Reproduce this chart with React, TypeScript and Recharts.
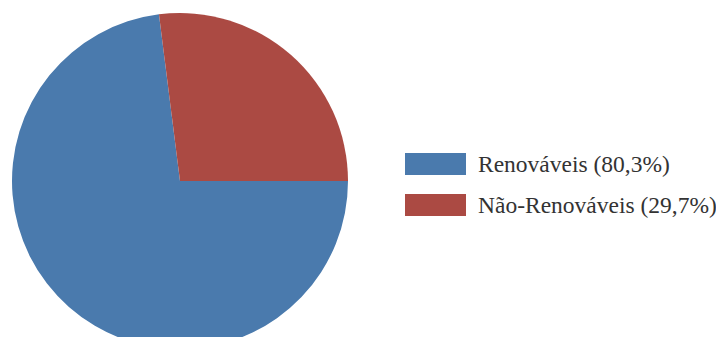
import { PieChart, Pie, Cell, Legend } from "recharts";

const categories = ["Renováveis", "Não-Renováveis"];
const values = [80.3, 29.7];
const labels = ["Renováveis (80,3%)", "Não-Renováveis (29,7%)"];
const COLORS = ["#4a7aad", "#ab4a43"];

const data = categories.map((name, i) => ({ name, value: values[i], label: labels[i], color: COLORS[i] }));

function LegendBox() {
  return (
    <div style={{ fontFamily: '"Liberation Serif", "Times New Roman", serif', fontSize: 23.5, color: "#333" }}>
      {data.map((d) => (
        <div key={d.name} style={{ display: "flex", alignItems: "flex-start", height: 41 }}>
          <div style={{ width: 61, height: 22, background: d.color, marginRight: 12 }} />
          <span style={{ lineHeight: "22px", whiteSpace: "nowrap" }}>{d.label}</span>
        </div>
      ))}
    </div>
  );
}

export default function App() {
  return (
    <div style={{ margin: -8, width: 724, height: 345, background: "#fff" }}>
      <PieChart width={724} height={345} margin={{ top: 0, right: 0, bottom: 0, left: 0 }}>
        <Pie
          data={data}
          dataKey="value"
          cx={180}
          cy={181}
          outerRadius={168}
          startAngle={0}
          endAngle={-360}
          stroke="none"
          isAnimationActive={false}
        >
          {data.map((d, i) => (
            <Cell key={i} fill={d.color} />
          ))}
        </Pie>
        <Legend
          layout="vertical"
          content={() => <LegendBox />}
          wrapperStyle={{ left: 405, top: 153, width: 319 }}
        />
      </PieChart>
    </div>
  );
}
